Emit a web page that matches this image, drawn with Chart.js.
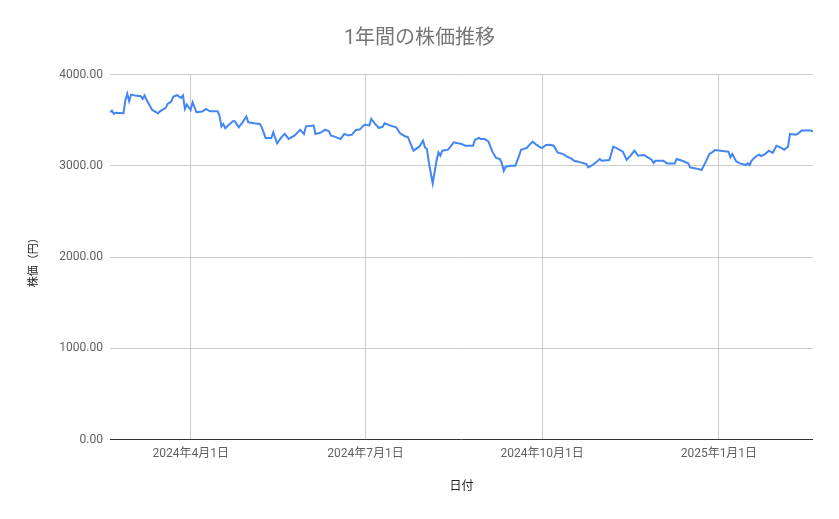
<!DOCTYPE html>
<html>
<head>
<meta charset="utf-8">
<script src="https://cdn.jsdelivr.net/npm/chart.js@4"></script>
<style>
  html, body { margin: 0; padding: 0; background: #ffffff; }
  #wrap { width: 839px; height: 519px; }
</style>
</head>
<body>
<div id="wrap"><canvas id="c" width="839" height="519"></canvas></div>
<script>
const startDate = '2024-02-19';
const dayOffsets = [0,1,2,3,7,8,9,10,11,13,16,17,18,19,22,25,26,29,30,32,33,35,36,37,38,39,40,41,42,43,45,48,50,52,56,57,58,59,60,62,64,65,67,69,71,72,75,78,79,81,84,85,87,89,91,93,96,99,101,102,106,107,110,112,114,115,117,120,122,124,126,128,130,132,133,135,136,138,140,142,143,146,149,151,154,155,158,161,163,164,165,166,168,170,171,172,173,176,179,183,185,189,190,192,193,195,197,199,201,203,204,205,206,209,211,213,214,217,218,220,222,224,225,227,229,231,233,236,238,240,242,243,245,248,249,252,255,256,260,262,264,267,269,271,273,275,278,280,282,283,284,288,290,294,295,298,301,302,305,308,310,312,314,315,318,321,322,323,324,326,328,331,332,333,334,336,338,339,341,343,345,347,349,351,353,354,357,358,360,363,365,366];
const prices = [3586,3605,3568,3580,3575,3715,3788,3707,3780,3770,3762,3733,3770,3722,3612,3575,3597,3634,3678,3707,3758,3773,3758,3744,3770,3623,3671,3641,3612,3696,3586,3594,3623,3597,3597,3550,3429,3458,3410,3451,3487,3487,3421,3476,3539,3476,3465,3458,3421,3305,3305,3366,3245,3305,3349,3294,3330,3393,3349,3432,3440,3349,3366,3396,3377,3330,3319,3294,3349,3333,3341,3393,3396,3440,3451,3440,3513,3458,3414,3429,3465,3440,3421,3355,3319,3319,3165,3209,3275,3201,3184,3037,2806,3055,3146,3110,3165,3176,3256,3239,3220,3220,3283,3305,3294,3294,3267,3157,3085,3074,3026,2945,2989,3000,3000,3110,3176,3195,3220,3264,3231,3201,3195,3228,3231,3220,3146,3128,3099,3081,3048,3048,3037,3019,2982,3019,3074,3055,3063,3209,3190,3154,3063,3110,3165,3110,3118,3092,3066,3030,3055,3055,3026,3026,3074,3055,3026,2982,2971,2953,3037,3128,3154,3173,3165,3157,3154,3092,3128,3048,3026,3008,3026,3008,3055,3099,3121,3107,3128,3165,3140,3220,3201,3176,3209,3349,3341,3349,3385,3385,3385,3374];
const tickDates = ['2024-04-01','2024-07-01','2024-10-01','2025-01-01'];
const tickLabels = ['2024年4月1日','2024年7月1日','2024年10月1日','2025年1月1日'];
const yTicks = [0, 1000, 2000, 3000, 4000];
const endDate = '2025-02-19';
const chartTitle = '1年間の株価推移';
const xTitle = '日付';
const yTitle = '株価（円）　';

const DAY = 86400000;
const t0 = Date.parse(startDate + 'T00:00:00Z');
const dayOf = d => Math.round((Date.parse(d + 'T00:00:00Z') - t0) / DAY);
const tickPos = tickDates.map(dayOf);
const xMax = dayOf(endDate);

const FONT = "Roboto, 'Noto Sans CJK JP', sans-serif";

new Chart(document.getElementById('c'), {
  type: 'line',
  data: {
    datasets: [{
      data: dayOffsets.map((d, i) => ({ x: d, y: prices[i] })),
      borderColor: '#4285F4',
      borderWidth: 2,
      pointRadius: 0,
      tension: 0,
      fill: false
    }]
  },
  options: {
    responsive: false,
    animation: false,
    layout: { padding: { left: 26, right: 26, top: 0, bottom: 0 } },
    plugins: {
      legend: { display: false },
      tooltip: { enabled: false },
      title: {
        display: true,
        text: chartTitle,
        color: '#757575',
        font: { family: FONT, size: 20, weight: 'normal' },
        padding: { top: 27, bottom: 23.5 }
      }
    },
    scales: {
      x: {
        type: 'linear',
        min: 0,
        max: xMax,
        afterBuildTicks: s => { s.ticks = tickPos.map(v => ({ value: v })); },
        afterFit: s => { s.height = 79.5; },
        grid: { color: '#cccccc', lineWidth: 1, drawTicks: false },
        border: { display: false },
        ticks: {
          padding: 7,
          color: '#616161',
          font: { family: FONT, size: 12 },
          maxRotation: 0,
          autoSkip: false,
          callback: v => { const i = tickPos.indexOf(v); return i >= 0 ? tickLabels[i] : ''; }
        },
        title: {
          display: true,
          text: xTitle,
          color: '#222222',
          font: { family: FONT, size: 12 },
          padding: { top: 0, bottom: 25 }
        }
      },
      y: {
        min: 0,
        max: 4000,
        afterBuildTicks: s => { s.ticks = yTicks.map(v => ({ value: v })); },
        afterFit: s => { s.width = 84; },
        grid: {
          color: c => (c.tick && c.tick.value === 0) ? '#333333' : '#cccccc',
          lineWidth: 1,
          drawTicks: false
        },
        border: { display: false },
        ticks: {
          padding: 7,
          color: '#616161',
          font: { family: FONT, size: 12 },
          callback: v => Number(v).toFixed(2)
        },
        title: {
          display: true,
          text: yTitle,
          color: '#222222',
          font: { family: FONT, size: 11 },
          padding: { top: 2, bottom: 0 }
        }
      }
    }
  }
});
</script>
</body>
</html>
